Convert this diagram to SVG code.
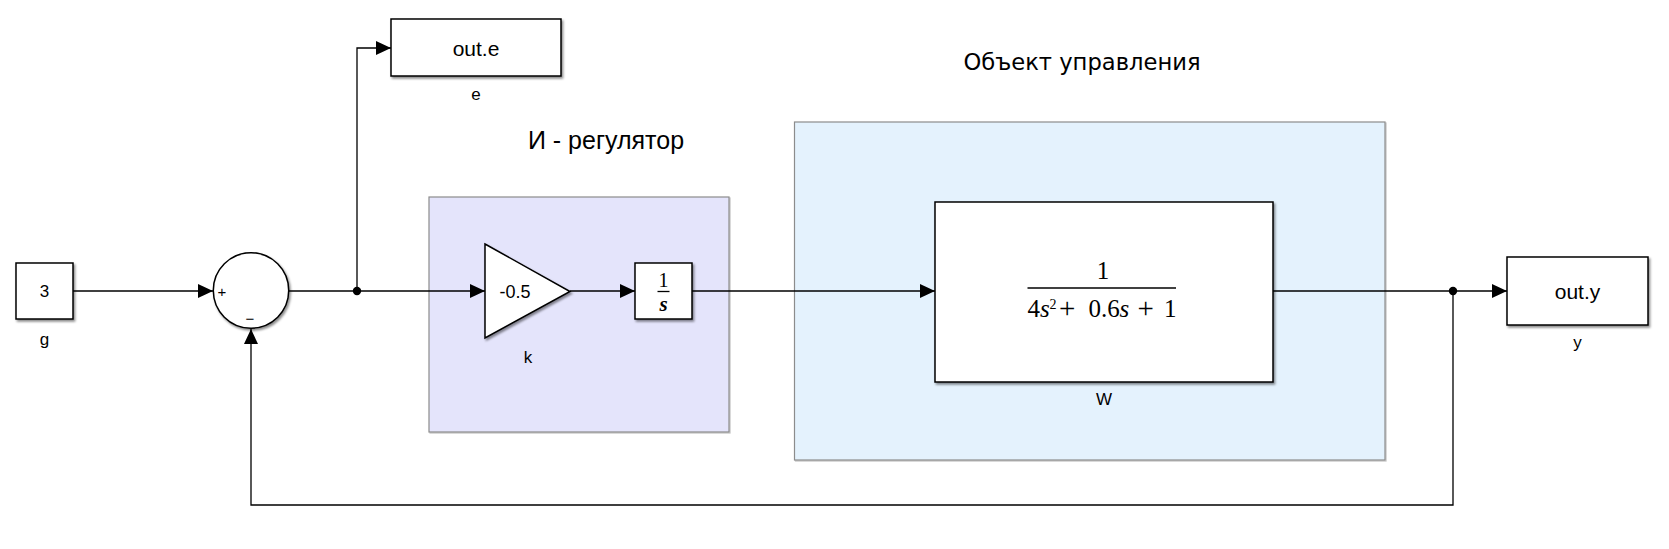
<svg xmlns="http://www.w3.org/2000/svg" width="1669" height="549" viewBox="0 0 1669 549">
<defs>
<style>
.blk{fill:#fff;stroke:#000;stroke-width:1.5;filter:url(#sh)}
.area{stroke:#8c8c8c;stroke-width:1.2;filter:url(#sh2)}
.wire{fill:none;stroke:#000;stroke-width:1.3}
.lbl{font-family:"Liberation Sans",Arial,sans-serif;font-size:17px;fill:#000;text-anchor:middle}
.big{font-family:"Liberation Sans",Arial,sans-serif;font-size:21px;fill:#000;text-anchor:middle}
.math{font-family:"Liberation Serif","Times New Roman",serif;fill:#000}
</style>
<filter id="sh" x="-10%" y="-10%" width="130%" height="130%">
<feDropShadow dx="1.5" dy="2" stdDeviation="1" flood-color="#000" flood-opacity="0.45"/>
</filter>
<filter id="sh2" x="-5%" y="-5%" width="110%" height="110%">
<feDropShadow dx="1" dy="1" stdDeviation="0.6" flood-color="#000" flood-opacity="0.25"/>
</filter>
<marker id="arr" markerUnits="userSpaceOnUse" markerWidth="15" markerHeight="14" refX="15" refY="7" orient="auto">
<path d="M0,0 L15,7 L0,14 z" fill="#000"/>
</marker>
</defs>
<rect width="1669" height="549" fill="#fff"/>

<g id="area-controller">
<rect class="area" x="429" y="197" width="300" height="235" fill="#E4E4FB"/>
<text x="606" y="149" font-family="'Liberation Sans',Arial,sans-serif" font-size="25" text-anchor="middle">И - регулятор</text>
</g>
<g id="area-plant">
<rect class="area" x="794.5" y="122" width="590.5" height="338" fill="#E4F2FD"/>
<text x="1082" y="70" font-family="'DejaVu Sans Condensed','DejaVu Sans',sans-serif" font-size="23" text-anchor="middle" textLength="237" lengthAdjust="spacingAndGlyphs">Объект управления</text>
</g>

<g id="connectors">
<line class="wire" x1="73" y1="291" x2="213" y2="291" marker-end="url(#arr)"/>
<line class="wire" x1="289" y1="291" x2="485" y2="291" marker-end="url(#arr)"/>
<polyline class="wire" points="357,291 357,48 391,48" marker-end="url(#arr)"/>
<line class="wire" x1="570" y1="291" x2="635" y2="291" marker-end="url(#arr)"/>
<line class="wire" x1="692" y1="291" x2="935" y2="291" marker-end="url(#arr)"/>
<line class="wire" x1="1273" y1="291" x2="1507" y2="291" marker-end="url(#arr)"/>
<polyline class="wire" points="1453,291 1453,505 251,505 251,329" marker-end="url(#arr)"/>
<circle cx="357" cy="291" r="4.2" fill="#000"/>
<circle cx="1453" cy="291" r="4.2" fill="#000"/>
</g>

<g id="g">
<rect class="blk" x="16" y="263" width="57" height="56"/>
<text class="lbl" x="44.5" y="297">3</text>
<text class="lbl" x="44.5" y="345">g</text>
</g>

<g id="sum">
<circle class="blk" cx="251" cy="290.5" r="37.7"/>
<text x="222" y="297" font-family="'Liberation Sans',Arial,sans-serif" font-size="15" text-anchor="middle">+</text>
<text x="250" y="324" font-family="'Liberation Sans',Arial,sans-serif" font-size="15" text-anchor="middle">−</text>
</g>

<g id="out-e">
<rect class="blk" x="391" y="19" width="170" height="57"/>
<text class="big" x="476" y="55.5">out.e</text>
<text class="lbl" x="476" y="100">e</text>
</g>

<g id="k">
<polygon class="blk" points="485,244 570,291.5 485,338"/>
<text x="515" y="298" font-family="'Liberation Sans',Arial,sans-serif" font-size="18" text-anchor="middle">-0.5</text>
<text class="lbl" x="528" y="363">k</text>
</g>

<g id="integrator">
<rect class="blk" x="635" y="263" width="57" height="56"/>
<text class="math" x="663.5" y="286.5" font-size="20" text-anchor="middle">1</text>
<line x1="657.5" y1="291.5" x2="669.5" y2="291.5" stroke="#000" stroke-width="1.3"/>
<text class="math" x="663.5" y="310.5" font-size="21" font-style="italic" font-weight="bold" text-anchor="middle">s</text>
</g>

<g id="W">
<rect class="blk" x="935" y="202" width="338" height="180"/>
<text class="math" x="1103" y="279" font-size="25" text-anchor="middle">1</text>
<line x1="1027.5" y1="288" x2="1176" y2="288" stroke="#000" stroke-width="1.5"/>
<text class="math" font-size="25" y="317"><tspan x="1027.5">4</tspan><tspan x="1040" font-style="italic">s</tspan><tspan x="1049.5" y="309" font-size="14">2</tspan><tspan x="1059" y="318" font-size="29">+</tspan><tspan x="1088.5" y="317">0.6</tspan><tspan x="1119.5" font-style="italic">s</tspan><tspan x="1137.5" y="318" font-size="29">+</tspan><tspan x="1164" y="317">1</tspan></text>
<text class="lbl" x="1104" y="405">W</text>
</g>

<g id="out-y">
<rect class="blk" x="1507" y="257" width="141" height="68"/>
<text class="big" x="1577.5" y="298.5">out.y</text>
<text class="lbl" x="1577.5" y="348">y</text>
</g>
</svg>
